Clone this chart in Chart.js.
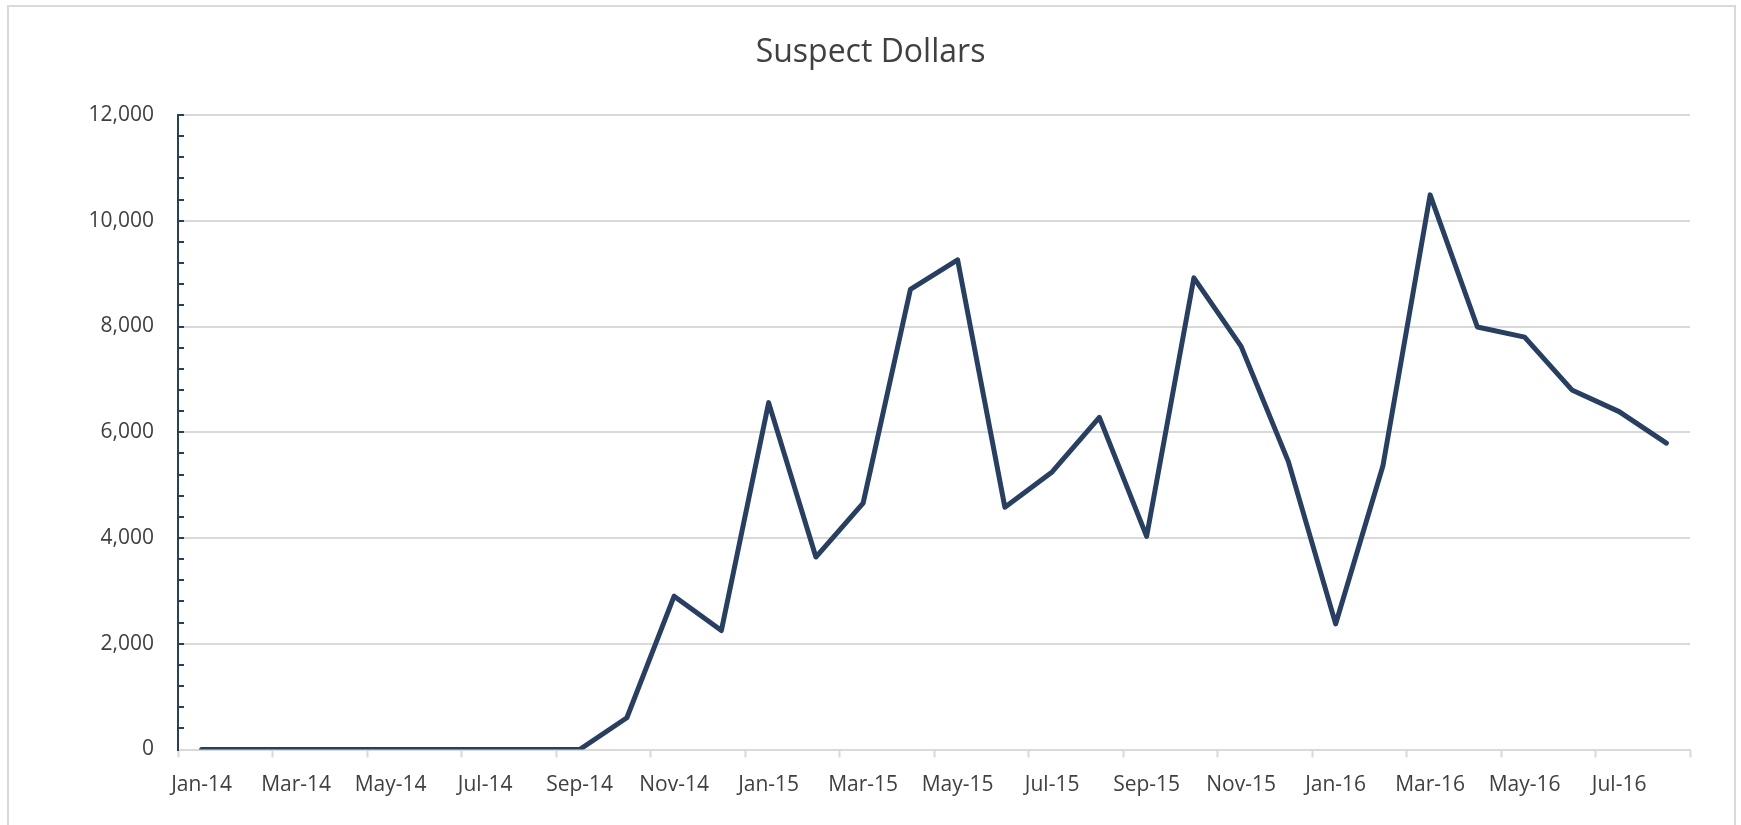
<!DOCTYPE html>
<html>
<head>
<meta charset="utf-8">
<script src="https://cdn.jsdelivr.net/npm/chart.js@4/dist/chart.umd.min.js"></script>
<style>
  html, body { margin: 0; padding: 0; background: #fff; }
  #frame {
    position: absolute; left: 7px; top: 5px; width: 1729px; height: 840px;
    border: 2px solid #d9d9d9; box-sizing: border-box;
  }
  #wrap { position: absolute; left: 0; top: 0; width: 1741px; height: 825px; }
</style>
</head>
<body>
<div id="frame"></div>
<div id="wrap"><canvas id="chart"></canvas></div>
<script>
// monthly labels Jan-14 .. Aug-16
const months = [
  'Jan-14', 'Feb-14', 'Mar-14', 'Apr-14', 'May-14', 'Jun-14', 'Jul-14', 'Aug-14',
  'Sep-14', 'Oct-14', 'Nov-14', 'Dec-14',
  'Jan-15', 'Feb-15', 'Mar-15', 'Apr-15', 'May-15', 'Jun-15', 'Jul-15', 'Aug-15',
  'Sep-15', 'Oct-15', 'Nov-15', 'Dec-15',
  'Jan-16', 'Feb-16', 'Mar-16', 'Apr-16', 'May-16', 'Jun-16', 'Jul-16', 'Aug-16'
];

const suspectDollars = [
  0, 0, 0, 0, 0, 0, 0, 0, 0, 600, 2900, 2250,
  6560, 3640, 4660, 8700, 9260, 4580, 5250, 6280, 4030, 8920, 7625, 5445,
  2375, 5360, 10490, 7990, 7800, 6800, 6390, 5795
];

const yMin = 0;
const yMax = 12000;
const yMajor = 2000;
const yMinor = 400;

const textColor = '#404040';
const gridColor = '#d9d9d9';
const lineColor = '#263f63';

new Chart(document.getElementById('chart'), {
  type: 'line',
  data: {
    labels: months,
    datasets: [{
      label: 'Suspect Dollars',
      data: suspectDollars,
      borderColor: lineColor,
      backgroundColor: lineColor,
      borderWidth: 5,
      borderCapStyle: 'round',
      borderJoinStyle: 'round',
      tension: 0,
      pointRadius: 0,
      fill: false
    }]
  },
  options: {
    responsive: true,
    maintainAspectRatio: false,
    animation: false,
    layout: { padding: 0 },
    plugins: {
      legend: { display: false },
      tooltip: { enabled: false },
      title: {
        display: true,
        text: 'Suspect Dollars',
        color: textColor,
        font: { family: 'Open Sans', size: 32, weight: 'normal' },
        padding: { top: 34, bottom: 42.6 }
      }
    },
    scales: {
      x: {
        offset: true,
        grid: {
          offset: true,
          drawOnChartArea: false,
          drawTicks: true,
          tickLength: 8,
          tickWidth: 2,
          tickColor: (ctx) => (ctx.index === undefined || ctx.index % 2 === 0) ? gridColor : 'rgba(0,0,0,0)'
        },
        border: { color: gridColor, width: 2 },
        ticks: {
          autoSkip: false,
          maxRotation: 0,
          color: textColor,
          font: { family: 'Open Sans', size: 21 },
          padding: 15,
          callback: function (value, index) {
            return index % 2 === 0 ? this.getLabelForValue(value) : '';
          }
        },
        afterFit: (scale) => { scale.height = 75.5; }
      },
      y: {
        min: yMin,
        max: yMax,
        grid: {
          color: (ctx) => (ctx.tick && ctx.tick.value % yMajor === 0) ? gridColor : 'rgba(0,0,0,0)',
          lineWidth: 2,
          drawTicks: true,
          tickLength: -6,
          tickWidth: 2,
          tickColor: lineColor
        },
        border: { color: lineColor, width: 2 },
        ticks: {
          stepSize: yMinor,
          autoSkip: false,
          color: textColor,
          font: { family: 'Open Sans', size: 21 },
          padding: 30,
          callback: (v) => v % yMajor === 0 ? v.toLocaleString('en-US') : ''
        },
        afterFit: (scale) => { scale.width = 178; }
      },
      // empty right-hand margin so the title stays centred on the whole frame
      yRight: {
        position: 'right',
        display: true,
        grid: { display: false, drawTicks: false },
        border: { display: false },
        ticks: { display: false },
        afterFit: (scale) => { scale.width = 51; }
      }
    }
  }
});
</script>
</body>
</html>
